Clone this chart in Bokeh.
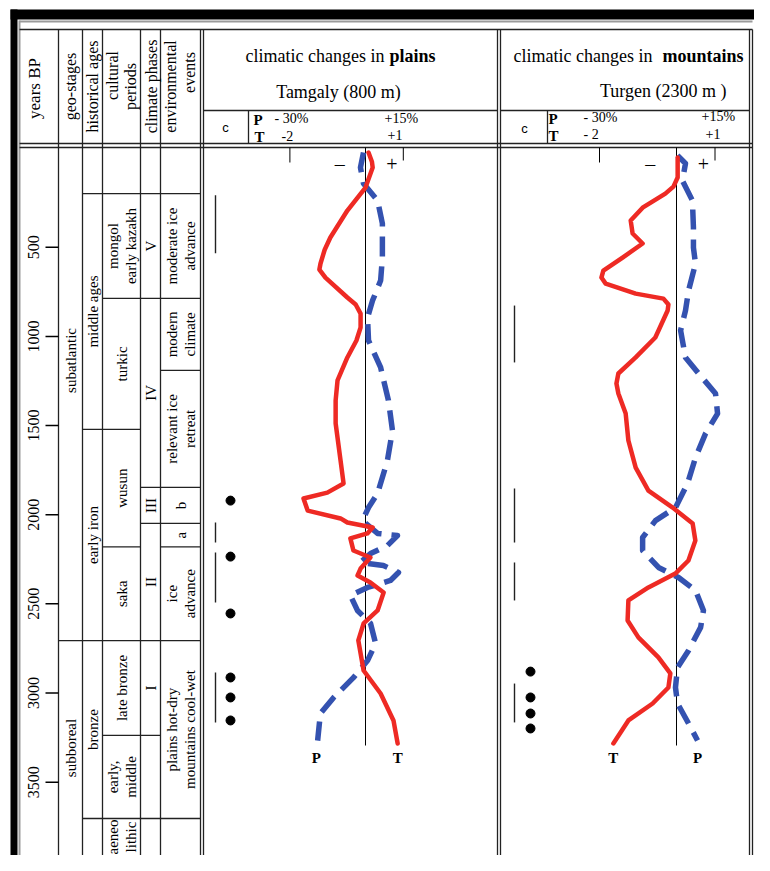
from math import pi
from bokeh.plotting import figure
from bokeh.models import Range1d
from bokeh.core.properties import value
from bokeh.embed import file_html
from bokeh.resources import INLINE

# ---------------- data ----------------
tick_years = [500, 1000, 1500, 2000, 2500, 3000, 3500]
tick_labels = ["500", "1000", "1500", "2000", "2500", "3000", "3500"]

# Tamgaly (plains) : temperature anomaly (deg C) and precipitation anomaly (%) vs years BP
pl_T_years = [-31, 20, 53, 165, 294, 445, 514, 591, 625, 670, 782, 821, 872, 950, 1023, 1118, 1247,
              1359, 1488, 1696, 1825, 1876, 1909, 1977, 2021, 2044, 2072, 2105, 2133, 2201, 2240,
              2302, 2341, 2380, 2436, 2537, 2610, 2705, 2874, 3003, 3154, 3283]
pl_T = [0.08, 0.17, 0.19, 0.0, -0.48, -0.93, -1.08, -1.19, -1.22, -1.06, -0.48, -0.26, -0.13, -0.13,
        -0.24, -0.48, -0.74, -0.79, -0.79, -0.66, -0.58, -1.01, -1.64, -1.53, -0.66, -0.48, 0.19,
        0.05, -0.40, -0.32, 0.13, -0.13, -0.21, 0.13, 0.48, 0.32, -0.05, -0.19, -0.05, 0.40, 0.74,
        0.85]
pl_P_years = [-31, 53, 143, 238, 367, 558, 687, 799, 894, 1023, 1174, 1359, 1528, 1696, 1881, 1960,
              2033, 2105, 2117, 2173, 2218, 2268, 2285, 2324, 2369, 2408, 2453, 2537, 2610, 2722,
              2818, 2914, 3026, 3115, 3267]
pl_P = [-0.8, -2.0, -0.8, 4.8, 6.7, 6.7, 6.0, 2.8, 0.8, 1.2, 6.0, 9.1, 10.7, 8.7, 4.8, 1.2, -1.2,
        4.8, 12.7, 8.7, 2.0, -2.0, 7.1, 13.1, 9.9, 0.8, -6.0, -3.2, 2.0, 4.0, 0.8, -4.8, -12.7,
        -17.9, -19.0]

# Turgen (mountains)
mt_T_years = [-3, 109, 160, 199, 278, 350, 423, 479, 558, 631, 670, 704, 760, 788, 821, 855, 1006,
              1118, 1208, 1264, 1320, 1433, 1584, 1736, 1865, 1960, 2050, 2145, 2257, 2330, 2408,
              2481, 2593, 2688, 2800, 2890, 2969, 3059, 3154, 3283]
mt_T = [0.03, 0.03, -0.08, -0.29, -0.88, -1.19, -1.14, -0.88, -1.40, -1.90, -1.95, -1.84, -1.06,
        -0.34, -0.21, -0.23, -0.55, -1.06, -1.51, -1.56, -1.51, -1.32, -1.25, -1.06, -0.73, -0.10,
        0.42, 0.49, 0.31, -0.03, -0.73, -1.25, -1.27, -0.99, -0.47, -0.16, -0.21, -0.62, -1.25,
        -1.64]
mt_P_years = [-15, 30, 126, 238, 390, 502, 592, 743, 855, 967, 1118, 1208, 1320, 1433, 1545, 1680,
              1825, 1960, 2033, 2128, 2201, 2296, 2352, 2425, 2537, 2632, 2761, 2857, 2969, 3059,
              3171, 3266]
mt_P = [0.4, 3.5, 2.3, 6.2, 6.6, 6.6, 7.4, 4.7, 3.5, 1.6, 3.5, 8.6, 15.2, 16.0, 11.3, 7.4, 4.3,
        -0.4, -8.2, -13.2, -13.2, -7.0, 0.8, 7.4, 10.5, 9.4, 4.7, 0.4, -0.4, 0.4, 4.7, 8.2]

# event markers (years BP)
pl_bar_start = [208, 2044, 2212, 2885]
pl_bar_end = [533, 2156, 2492, 3165]
pl_dots = [1921, 2235, 2554, 2913, 3025, 3154]
mt_bar_start = [827, 1853, 2268, 2947]
mt_bar_end = [1146, 2156, 2481, 3165]
mt_dots = [2880, 3025, 3115, 3199]

# chronological columns: (label, start year, end year); None = runs off the page
TOP = -59
geo_stages = [("subatlantic", TOP, 2706), ("subboreal", 2706, None)]
historical_ages = [("", TOP, 199), ("middle ages", 199, 1522), ("early iron", 1522, 2706),
                   ("bronze", 2706, 3704), ("", 3704, None)]
cultural_periods = [("", TOP, 199), ("mongol\nearly kazakh", 199, 787), ("turkic", 787, 1522),
                    ("wusun", 1522, 2180), ("saka", 2180, 2706), ("late bronze", 2706, 3238),
                    ("early,\nmiddle", 3238, 3704), ("aeneo\nlithic", 3704, None)]
climate_phases = [("", TOP, 199), ("V", 199, 787), ("IV", 787, 1847), ("III", 1847, 2049),
                  ("II", 2049, 2706), ("I", 2706, 3238), ("", 3238, 3704), ("", 3704, None)]
environmental_events = [("", TOP, 199), ("moderate ice\nadvance", 199, 787), ("modern\nclimate", 787, 1191),
                        ("relevant ice\nretreat", 1191, 1847), ("b", 1847, 2049), ("a", 2049, 2180),
                        ("ice\nadvance", 2180, 2706), ("plains hot-dry\nmountains cool-wet", 2706, 3704),
                        ("", 3704, None)]

# ---------------- layout ----------------
W, H = 754, 855
X0, X1 = 0, 754
Y0, Y1 = 0, 855
Y_PX0, Y_SCALE = 157.6, 0.1783   # year axis: px = Y_PX0 + Y_SCALE*year
RIGHT = 752


def year_at(px):
    return (px - Y_PX0) / Y_SCALE


PL_ZERO, PL_UNIT = 365.0, 37.8
MT_ZERO, MT_UNIT = 676.0, 38.5
P_PER_UNIT = 15.0   # +15% <-> +1 deg C on the shared scale

SERIF = value("Liberation Serif")
SANS = value("Liberation Sans")
INK = "#000000"

p = figure(width=W, height=H, x_range=Range1d(X0, X1),
           y_range=Range1d(year_at(Y1), year_at(Y0)),
           x_axis_type=None, y_axis_type=None, output_backend="svg",
           toolbar_location=None, min_border=0, outline_line_color=None)
p.extra_y_ranges = {"px": Range1d(Y1, Y0)}
p.extra_x_ranges = {
    "pl": Range1d((X0 - PL_ZERO) / PL_UNIT, (X1 - PL_ZERO) / PL_UNIT),
    "mt": Range1d((X0 - MT_ZERO) / MT_UNIT, (X1 - MT_ZERO) / MT_UNIT),
}
p.grid.visible = False

BOT_PX = 870
BOT_YEAR = year_at(Y1)

# --- frame: black bars
p.quad(left=[10, 10], right=[X1, 17], top=[9, 9], bottom=[19, BOT_PX], y_range_name="px",
       fill_color="black", line_color=None)
p.segment(x0=[19], y0=[21], x1=[RIGHT], y1=[21], y_range_name="px", line_color="#9a9a9a", line_width=2)
p.segment(x0=[19], y0=[20], x1=[19], y1=[BOT_PX], y_range_name="px", line_color="#9a9a9a", line_width=2)
p.segment(x0=[19], y0=[29], x1=[RIGHT], y1=[29], y_range_name="px", line_color="#222", line_width=1.4)
p.segment(x0=[19, 19], y0=[143, 147], x1=[RIGHT, RIGHT], y1=[143, 147], y_range_name="px",
          line_color="#222", line_width=1.3)
vx = [58, 82, 102, 140, 160, 200, 203, 497, 500, RIGHT - 3, RIGHT]
p.segment(x0=vx, y0=[29] * len(vx), x1=vx, y1=[BOT_PX] * len(vx), y_range_name="px",
          line_color="#222", line_width=1.3)
p.segment(x0=[203, 500, 248, 547], y0=[110, 110, 110, 110], x1=[497, RIGHT - 3, 248, 547],
          y1=[110, 110, 143, 143], y_range_name="px", line_color="#222", line_width=1.3)

# --- header column titles (rotated)
hdr = [("years BP", 34, 88, "17px"), ("geo-stages", 70, 86, "16px"), ("historical ages", 92, 86, "16px"),
       ("cultural", 112, 75, "16px"), ("periods", 130, 86, "16px"), ("climate phases", 151, 86, "16px"),
       ("environmental", 170, 86, "16px"), ("events", 189, 72, "16px")]
for t, x, y, fs in hdr:
    p.text(x=[x], y=[y], text=[t], y_range_name="px", angle=pi / 2, text_font=SERIF,
           text_font_size=fs, text_align="center", text_baseline="middle", text_color=INK)


def txt(x, y, t, size="18px", align="left", bold=False, font=SERIF):
    p.text(x=[x], y=[y], text=[t], y_range_name="px", text_font=font, text_font_size=size,
           text_align=align, text_baseline="middle", text_color=INK,
           text_font_style="bold" if bold else "normal")


txt(384, 55, "climatic changes in", align="right")
txt(389, 55, "plains", bold=True)
txt(338, 91, "Tamgaly (800 m)", align="center")
txt(652, 55, "climatic changes in", align="right")
txt(662, 55, "mountains", bold=True)
txt(665, 90, "Turgen  (2300 m )", align="center")

txt(225, 127, "c", size="13px", align="center", font=SANS)
txt(524, 128, "c", size="13px", align="center", font=SANS)
txt(253, 119, "P", size="15px", bold=True)
txt(254, 136, "T", size="15px", bold=True)
txt(274, 118, "- 30%", size="14px")
txt(281, 135, "-2", size="14px")
txt(384, 118, "+15%", size="14px")
txt(387, 134, "+1", size="14px")
txt(548, 118, "P", size="15px", bold=True)
txt(548, 135, "T", size="15px", bold=True)
txt(583, 117, "- 30%", size="14px")
txt(583, 134, "- 2", size="14px")
txt(701, 116, "+15%", size="14px")
txt(705, 133, "+1", size="14px")

# --- years BP axis (ticks + rotated labels)
p.segment(x0=[45] * len(tick_years), y0=tick_years, x1=[58] * len(tick_years), y1=tick_years,
          line_color=INK, line_width=1.5)
p.text(x=[33] * len(tick_years), y=tick_years, text=tick_labels, angle=pi / 2, text_font=SERIF,
       text_font_size="16px", text_align="center", text_baseline="middle", text_color=INK)

# --- chronological columns
columns = [(58, 82, geo_stages, {"subatlantic": 1135}),
           (82, 102, historical_ages, {}),
           (102, 140, cultural_periods, {}),
           (140, 160, climate_phases, {}),
           (160, 200, environmental_events, {})]
for xl, xr, segs, override in columns:
    bys = [e for (_, s, e) in segs if e is not None]
    p.segment(x0=[xl] * len(bys), y0=bys, x1=[xr] * len(bys), y1=bys, line_color="#222", line_width=1.3)
    xc = (xl + xr) / 2
    for lab, s, e in segs:
        if not lab:
            continue
        ee = e if e is not None else BOT_YEAR
        ym = override.get(lab, (s + ee) / 2)
        lines = lab.split("\n")
        n = len(lines)
        for i, ln in enumerate(lines):
            p.text(x=[xc + (i - (n - 1) / 2) * 18], y=[ym], text=[ln], angle=pi / 2, text_font=SERIF,
                   text_font_size="15px", text_align="center", text_baseline="middle", text_color=INK)

# --- panels
RED = "#ee2a24"
BLUE = "#3452b0"
for rng, T_y, T_v, P_y, P_v, lab_T, lab_P in [
        ("pl", pl_T_years, pl_T, pl_P_years, pl_P, 0.85, -1.3),
        ("mt", mt_T_years, mt_T, mt_P_years, mt_P, -1.64, 0.55)]:
    p.segment(x0=[0], x1=[0], y0=[147], y1=[745], x_range_name=rng, y_range_name="px",
              line_color=INK, line_width=1)
    p.segment(x0=[-2, 1], x1=[-2, 1], y0=[147, 147], y1=[162, 160], x_range_name=rng, y_range_name="px",
              line_color=INK, line_width=1)
    p.text(x=[-0.68, 0.7], y=[163, 163], text=["\u2013", "+"], x_range_name=rng, y_range_name="px",
           text_font=SERIF, text_font_size="20px", text_align="center", text_baseline="middle",
           text_color=INK)
    p.line(x=[v / P_PER_UNIT for v in P_v], y=P_y, x_range_name=rng, line_color=BLUE, line_width=5.5,
           line_dash="20 10", line_join="round")
    p.line(x=T_v, y=T_y, x_range_name=rng, line_color=RED, line_width=4.5, line_join="round",
           line_cap="round")
    p.text(x=[lab_T, lab_P], y=[757, 757], text=["T", "P"], x_range_name=rng, y_range_name="px",
           text_font=SERIF, text_font_size="15px", text_font_style="bold", text_align="center",
           text_baseline="middle", text_color=INK)

# event bars and dots
for bx, dx, bs, be, dots in [(215, 230, pl_bar_start, pl_bar_end, pl_dots),
                             (514, 530, mt_bar_start, mt_bar_end, mt_dots)]:
    p.segment(x0=[bx] * len(bs), x1=[bx] * len(bs), y0=bs, y1=be, line_color="#222", line_width=1.4)
    p.scatter(x=[dx] * len(dots), y=dots, size=9, fill_color=INK, line_color=INK)

open("out.html", "w").write(file_html(p, INLINE))
